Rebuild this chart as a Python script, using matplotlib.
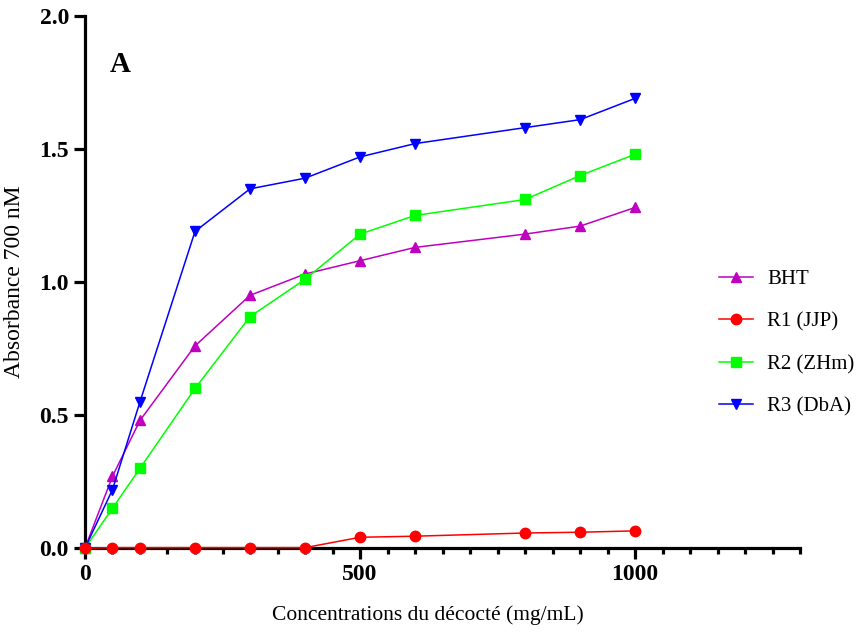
import matplotlib.pyplot as plt
from matplotlib.ticker import MultipleLocator

plt.rcParams["font.family"] = ["Liberation Serif", "DejaVu Serif"]

# concentrations (mg/mL)
conc = [0, 50, 100, 200, 300, 400, 500, 600, 800, 900, 1000]

bht = [0.0, 0.27, 0.48, 0.76, 0.95, 1.03, 1.08, 1.13, 1.18, 1.21, 1.28]
r1_jjp = [0.0, 0.002, 0.002, 0.002, 0.002, 0.002, 0.041, 0.045, 0.057, 0.060, 0.065]
r2_zhm = [0.0, 0.15, 0.30, 0.60, 0.87, 1.01, 1.18, 1.25, 1.31, 1.40, 1.48]
r3_dba = [0.0, 0.22, 0.55, 1.19, 1.35, 1.39, 1.47, 1.52, 1.58, 1.61, 1.69]

fig = plt.figure(figsize=(8.67, 6.33), dpi=100)
ax = fig.add_axes([0.098, 0.134, 0.825, 0.841])

style = dict(linewidth=1.1, markersize=7.5, clip_on=False)
ax.plot(conc, bht, color="#c000c0", marker="^", label="BHT", zorder=3, **style)
ax.plot(conc, r2_zhm, color="#00ff00", marker="s", label="R2 (ZHm)", zorder=4, **style)
ax.plot(conc, r3_dba, color="#0000ff", marker="v", label="R3 (DbA)", zorder=5, **style)
ax.plot(conc, r1_jjp, color="#ff0000", marker="o", label="R1 (JJP)", zorder=6, **style)

ax.set_xlim(0, 1300)
ax.set_ylim(0, 2.0)
ax.xaxis.set_major_locator(MultipleLocator(500))
ax.xaxis.set_minor_locator(MultipleLocator(50))
ax.yaxis.set_major_locator(MultipleLocator(0.5))
ax.yaxis.set_major_formatter(plt.FormatStrFormatter("%.1f"))

for side in ("top", "right"):
    ax.spines[side].set_visible(False)
for side in ("left", "bottom"):
    ax.spines[side].set_linewidth(2.3)
ax.tick_params(which="major", length=8, width=2.3, labelsize=17)
ax.tick_params(which="minor", length=4.5, width=2.3)
for lab in ax.get_xticklabels() + ax.get_yticklabels():
    lab.set_fontweight("bold")

ax.set_xlabel("Concentrations du décocté (mg/mL)", fontsize=15.5)
ax.xaxis.set_label_coords(0.48, -0.108)
ax.set_ylabel("Absorbance 700 nM", fontsize=17, labelpad=10)
ax.text(0.035, 0.895, "A", transform=ax.transAxes, fontsize=21, fontweight="bold")

handles, labels = ax.get_legend_handles_labels()
order = [0, 3, 1, 2]
ax.legend([handles[i] for i in order], [labels[i] for i in order],
          loc="center left", bbox_to_anchor=(0.887, 0.385), frameon=False,
          fontsize=15, handlelength=1.6, labelspacing=1.1, handletextpad=0.7,
          borderaxespad=0, borderpad=0)

fig.savefig("out.png", dpi=100)
